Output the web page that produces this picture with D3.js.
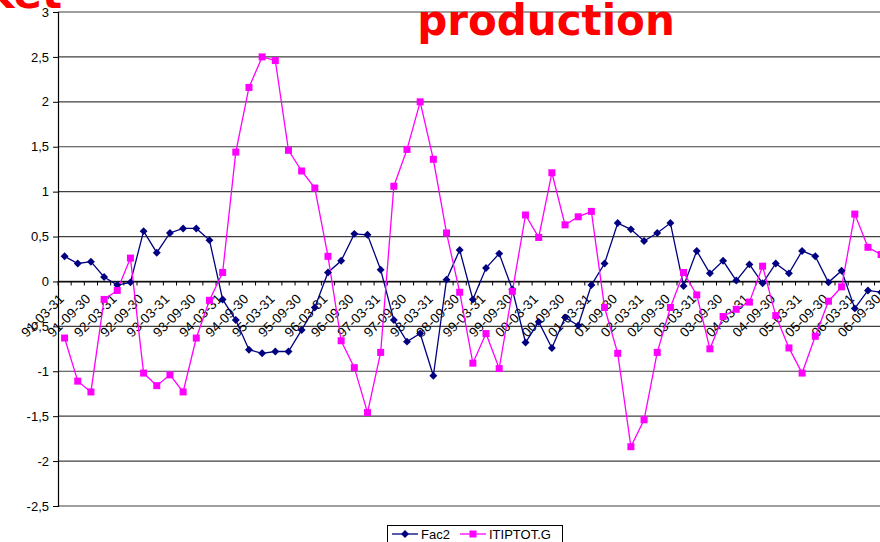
<!DOCTYPE html>
<html>
<head>
<meta charset="utf-8">
<script src="https://cdn.jsdelivr.net/npm/d3@7/dist/d3.min.js"></script>
<style>
  html, body { margin: 0; padding: 0; background: #fff; }
  svg { display: block; }
  text { font-family: "Liberation Sans", Arial, sans-serif; }
  text.title { font-family: "DejaVu Sans", Verdana, sans-serif; font-weight: bold; }
</style>
</head>
<body>
<svg id="chart" width="880" height="542"></svg>
<script>
// Quarter-end dates, 1991 Q1 to 2006 Q3
const quarters = [
  "91-03-31","91-06-30","91-09-30","91-12-31",
  "92-03-31","92-06-30","92-09-30","92-12-31",
  "93-03-31","93-06-30","93-09-30","93-12-31",
  "94-03-31","94-06-30","94-09-30","94-12-31",
  "95-03-31","95-06-30","95-09-30","95-12-31",
  "96-03-31","96-06-30","96-09-30","96-12-31",
  "97-03-31","97-06-30","97-09-30","97-12-31",
  "98-03-31","98-06-30","98-09-30","98-12-31",
  "99-03-31","99-06-30","99-09-30","99-12-31",
  "00-03-31","00-06-30","00-09-30","00-12-31",
  "01-03-31","01-06-30","01-09-30","01-12-31",
  "02-03-31","02-06-30","02-09-30","02-12-31",
  "03-03-31","03-06-30","03-09-30","03-12-31",
  "04-03-31","04-06-30","04-09-30","04-12-31",
  "05-03-31","05-06-30","05-09-30","05-12-31",
  "06-03-31","06-06-30","06-09-30"
];

const fac2 = [
   0.28,  0.20,  0.22,  0.05,
  -0.04, -0.01,  0.56,  0.32,
   0.54,  0.59,  0.59,  0.46,
  -0.20, -0.43, -0.76, -0.80,
  -0.78, -0.78, -0.54, -0.29,
   0.10,  0.23,  0.53,  0.52,
   0.13, -0.43, -0.67, -0.58,
  -1.05,  0.02,  0.35, -0.20,
   0.15,  0.31, -0.09, -0.68,
  -0.45, -0.74, -0.40, -0.49,
  -0.04,  0.20,  0.65,  0.58,
   0.45,  0.54,  0.65, -0.05,
   0.34,  0.09,  0.23,  0.01,
   0.19, -0.02,  0.20,  0.09,
   0.34,  0.28, -0.01,  0.12,
  -0.30, -0.10, -0.12
];

const itiptot = [
  -0.63, -1.11, -1.23, -0.20,
  -0.10,  0.26, -1.02, -1.16,
  -1.04, -1.23, -0.63, -0.21,
   0.10,  1.44,  2.16,  2.50,
   2.46,  1.46,  1.23,  1.04,
   0.28, -0.66, -0.96, -1.46,
  -0.79,  1.06,  1.47,  2.00,
   1.36,  0.54, -0.12, -0.91,
  -0.58, -0.97, -0.11,  0.74,
   0.49,  1.21,  0.63,  0.72,
   0.78, -0.29, -0.80, -1.84,
  -1.54, -0.79, -0.29,  0.10,
  -0.15, -0.75, -0.39, -0.31,
  -0.23,  0.17, -0.38, -0.74,
  -1.02, -0.61, -0.22, -0.06,
   0.75,  0.38,  0.30
];

const yTicks = [3, 2.5, 2, 1.5, 1, 0.5, 0, -0.5, -1, -1.5, -2, -2.5];
const seriesNames = ["Fac2", "ITIPTOT.G"];
const titleWords = ["Market", "production"];

const NAVY = "#000080", MAGENTA = "#ff00ff", RED = "#ff0000";

const svg = d3.select("#chart");
const plotLeft = 58, plotTop = 12, plotBottom = 506, catStep = 13.17;

const x = d3.scaleBand()
  .domain(quarters)
  .range([plotLeft, plotLeft + quarters.length * catStep])
  .padding(0);
const cx = d => x(d) + x.bandwidth() / 2;

const y = d3.scaleLinear().domain([-2.5, 3]).range([plotBottom, plotTop]);

const fmt = v => String(v).replace(".", ",");

// Horizontal gridlines
svg.append("g")
  .selectAll("line")
  .data(yTicks)
  .join("line")
  .attr("x1", plotLeft).attr("x2", 880)
  .attr("y1", d => y(d)).attr("y2", d => y(d))
  .attr("stroke", "#000").attr("stroke-width", 1.2).attr("opacity", 0.75);

// Value axis
const yAxis = d3.axisLeft(y).tickValues(yTicks).tickSize(5).tickPadding(4).tickFormat(fmt);
const gy = svg.append("g").attr("transform", `translate(${plotLeft},0)`).call(yAxis);
gy.select(".domain").attr("stroke", "#000").attr("stroke-width", 1.2);
gy.selectAll(".tick line").attr("stroke", "#000");
gy.selectAll(".tick text").attr("font-size", 13).attr("fill", "#000");

// Category axis along the zero line
const y0 = y(0);
const xAxis = d3.axisBottom(x).tickValues([]).tickSize(0);
const gx = svg.append("g").attr("transform", `translate(0,${y0})`).call(xAxis);
gx.select(".domain").attr("stroke", "#000").attr("stroke-width", 1.2);
// tick marks at category boundaries
gx.append("g").selectAll("line")
  .data(d3.range(quarters.length + 1))
  .join("line")
  .attr("x1", i => plotLeft + i * x.step()).attr("x2", i => plotLeft + i * x.step())
  .attr("y1", 0).attr("y2", 4)
  .attr("stroke", "#000");

// Every second category label, rotated
gx.append("g").selectAll("text")
  .data(quarters.filter((q, i) => i % 2 === 0))
  .join("text")
  .attr("transform", d => `translate(${cx(d) - 3},${15}) rotate(-45)`)
  .attr("text-anchor", "end")
  .attr("dy", "0.35em")
  .attr("font-size", 13.5)
  .attr("fill", "#000")
  .text(d => d);

// Lines
const line = vals => d3.line()
  .x((v, i) => cx(quarters[i]))
  .y(v => y(v))(vals);

svg.append("path").attr("d", line(fac2))
  .attr("fill", "none").attr("stroke", NAVY).attr("stroke-width", 1.3);
svg.append("path").attr("d", line(itiptot))
  .attr("fill", "none").attr("stroke", MAGENTA).attr("stroke-width", 1.3);

// Markers
const diamond = d3.symbol().type(d3.symbolDiamond2).size(40);
svg.append("g").selectAll("path")
  .data(fac2)
  .join("path")
  .attr("d", diamond)
  .attr("transform", (v, i) => `translate(${cx(quarters[i])},${y(v)})`)
  .attr("fill", NAVY);

svg.append("g").selectAll("rect")
  .data(itiptot)
  .join("rect")
  .attr("x", (v, i) => cx(quarters[i]) - 3.5)
  .attr("y", v => y(v) - 3.5)
  .attr("width", 7).attr("height", 7)
  .attr("fill", MAGENTA);

// Title fragments
svg.append("text").attr("class", "title")
  .attr("x", 62).attr("y", 8)
  .attr("text-anchor", "end")
  .attr("font-size", 42)
  .attr("fill", RED)
  .text(titleWords[0]);
svg.append("text").attr("class", "title")
  .attr("x", 546).attr("y", 35)
  .attr("text-anchor", "middle")
  .attr("font-size", 42)
  .attr("fill", RED)
  .text(titleWords[1]);

// Legend
const lg = svg.append("g");
lg.append("rect")
  .attr("x", 387.5).attr("y", 525.5).attr("width", 175).attr("height", 20)
  .attr("fill", "#fff").attr("stroke", "#000").attr("stroke-width", 1);

const legendItems = [
  { name: seriesNames[0], color: NAVY, x0: 392, shape: "diamond", tx: 421 },
  { name: seriesNames[1], color: MAGENTA, x0: 460, shape: "square", tx: 489 }
];
legendItems.forEach(it => {
  const ly = 534;
  lg.append("line").attr("x1", it.x0).attr("x2", it.x0 + 26)
    .attr("y1", ly).attr("y2", ly)
    .attr("stroke", it.color).attr("stroke-width", 1.3);
  if (it.shape === "diamond") {
    lg.append("path").attr("d", diamond)
      .attr("transform", `translate(${it.x0 + 13},${ly})`).attr("fill", it.color);
  } else {
    lg.append("rect").attr("x", it.x0 + 9.5).attr("y", ly - 3.5)
      .attr("width", 7).attr("height", 7).attr("fill", it.color);
  }
  lg.append("text").attr("x", it.tx).attr("y", ly + 4.5)
    .attr("font-size", 13).attr("fill", "#000").text(it.name);
});
</script>
</body>
</html>
